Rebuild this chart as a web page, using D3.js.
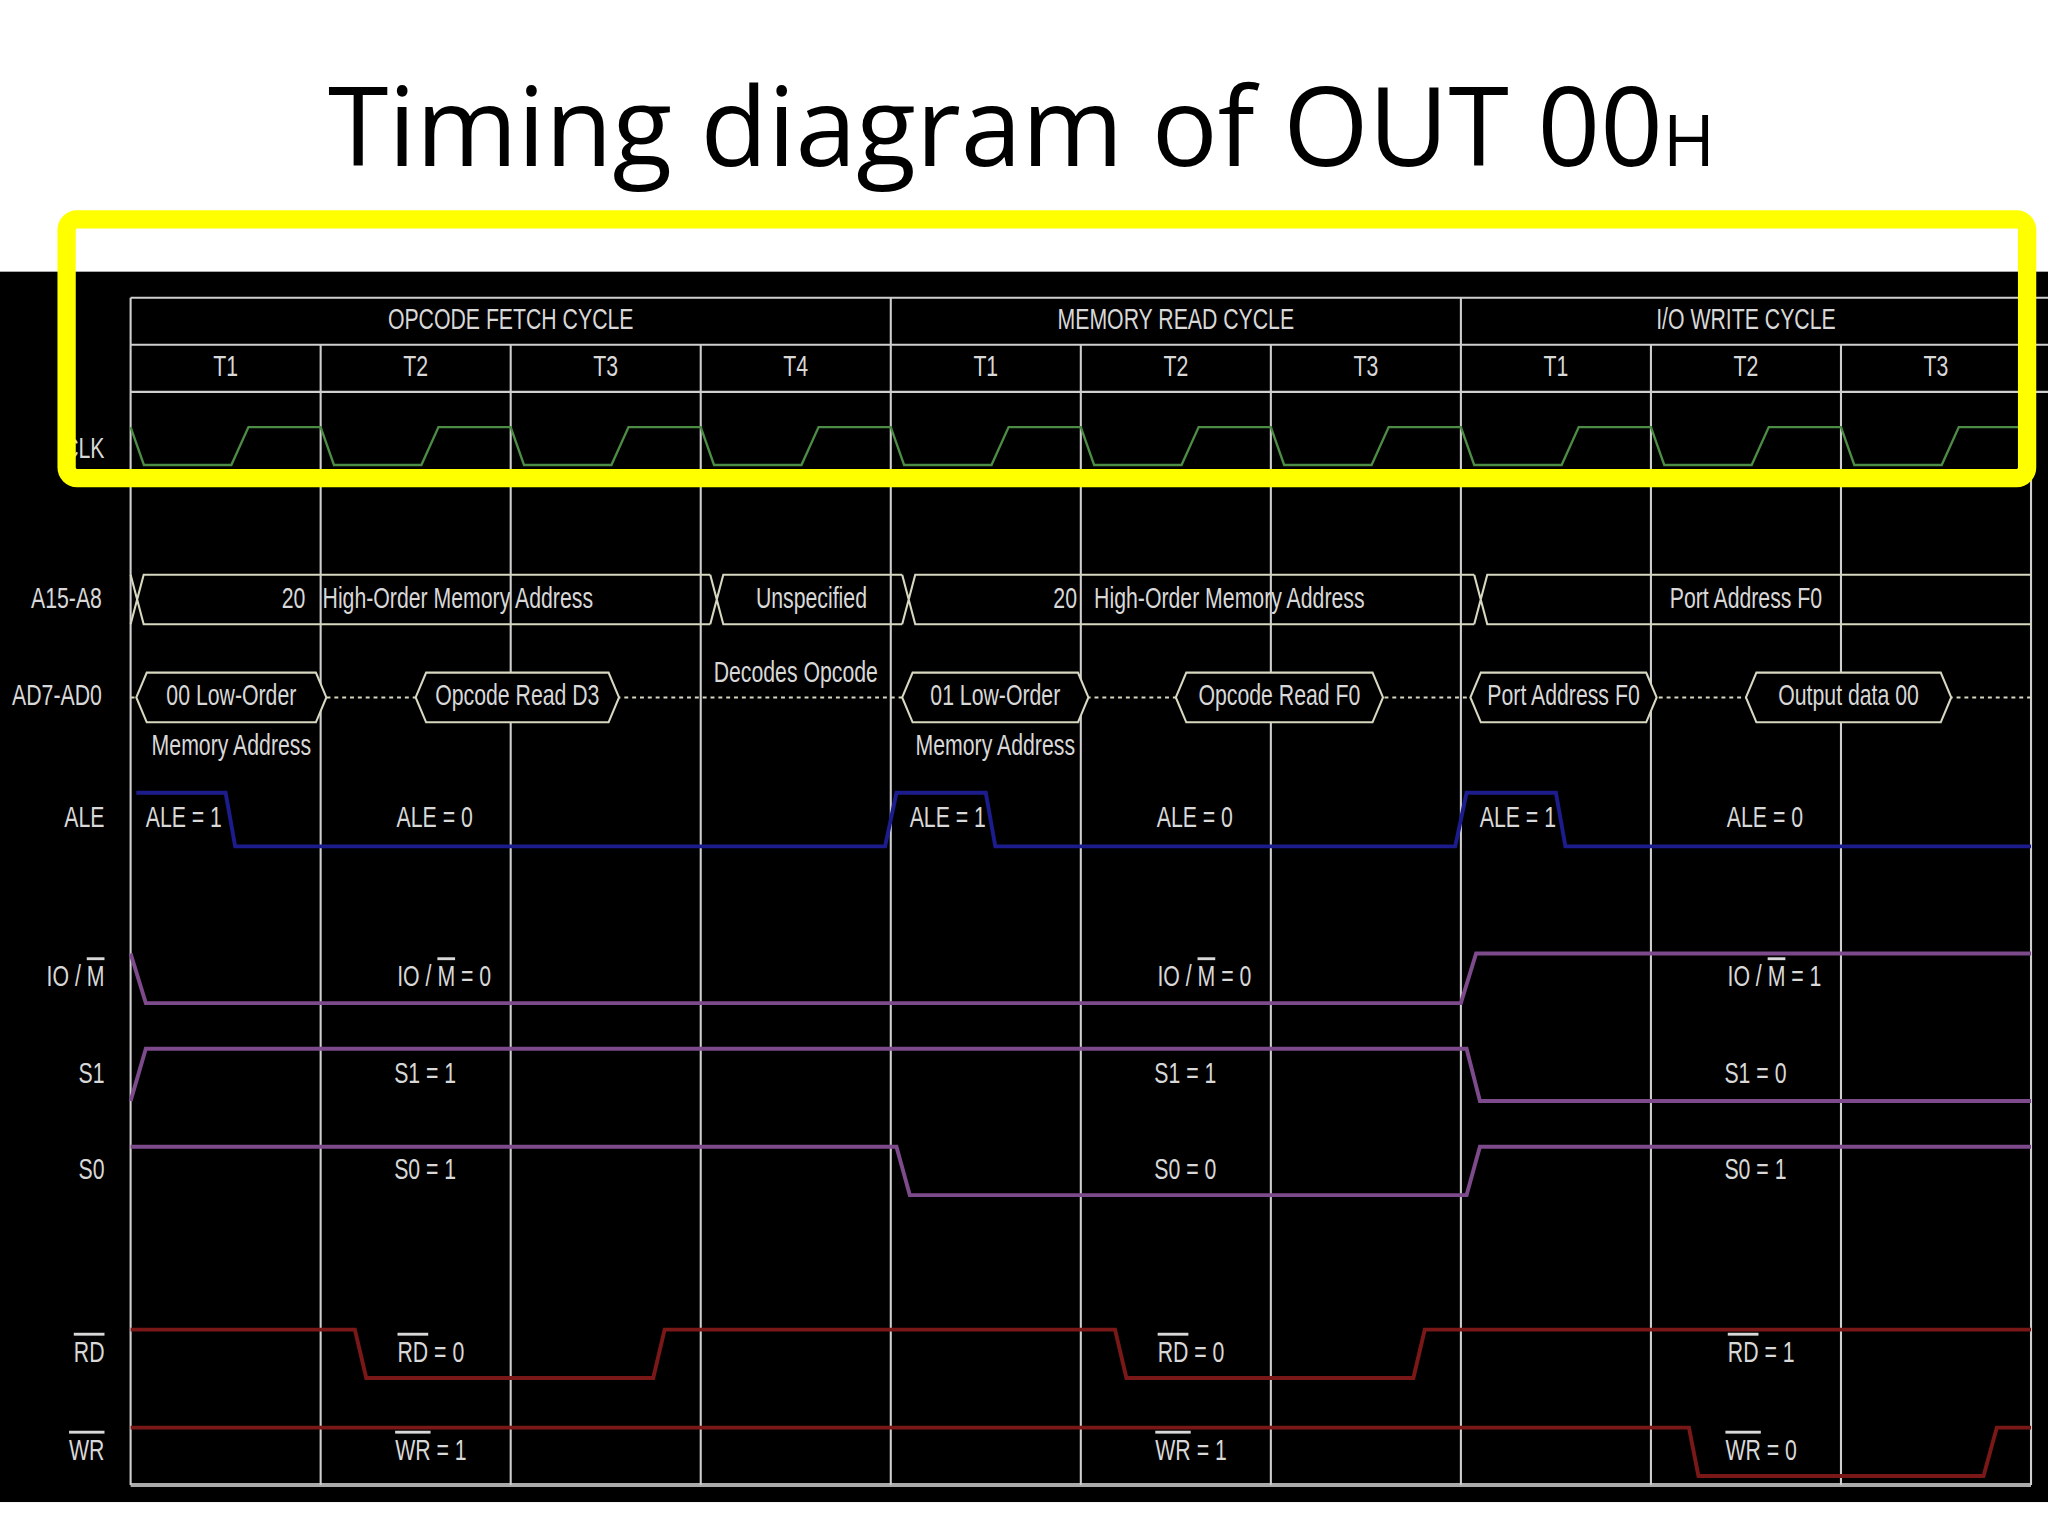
<!DOCTYPE html>
<html><head><meta charset="utf-8">
<script src="https://cdn.jsdelivr.net/npm/d3@7"></script>
<style>body{margin:0;background:#fff}svg{display:block}</style>
</head><body>
<svg id="chart" width="2048" height="1536" viewBox="0 0 1568 1176"></svg>
<script>
// machine cycles and T-states
var cycles = [{name: "OPCODE FETCH CYCLE", start: 0, end: 4},
              {name: "MEMORY READ CYCLE", start: 4, end: 7},
              {name: "I/O WRITE CYCLE", start: 7, end: 10}];
var tLabels = ["T1","T2","T3","T4","T1","T2","T3","T1","T2","T3"];

// clock shape within one T-state (time offset, level)
var clkShape = [[0,1],[0.07,0],[0.53,0],[0.62,1]];

// address bus A15-A8: [start, end, label]
var addrHigh = [[0, 3.05, "20  High-Order Memory Address"],
                [3.05, 4.06, "Unspecified"],
                [4.06, 7.07, "20  High-Order Memory Address"],
                [7.07, 10, "Port Address F0"]];
// AD7-AD0 bus: [start, end, label, second line]
var addrLow = [[0.03, 1.03, "00 Low-Order", "Memory Address"],
               [1.5, 2.57, "Opcode Read D3", ""],
               [4.06, 5.04, "01 Low-Order", "Memory Address"],
               [5.5, 6.59, "Opcode Read F0", ""],
               [7.05, 8.03, "Port Address F0", ""],
               [8.5, 9.58, "Output data 00", ""]];

// control signals: points [time, level]
var ale  = [[0.03,1],[0.5,1],[0.55,0],[3.97,0],[4.03,1],[4.5,1],[4.55,0],[6.97,0],[7.03,1],[7.5,1],[7.55,0],[10,0]];
var iom  = [[0,1],[0.08,0],[7.0,0],[7.08,1],[10,1]];
var s1   = [[0,0],[0.08,1],[7.03,1],[7.1,0],[10,0]];
var s0   = [[0,1],[4.03,1],[4.1,0],[7.03,0],[7.1,1],[10,1]];
var rd   = [[0,1],[1.18,1],[1.24,0],[2.75,0],[2.81,1],[5.18,1],[5.24,0],[6.75,0],[6.81,1],[10,1]];
var wr   = [[0,1],[8.2,1],[8.25,0],[9.75,0],[9.82,1],[10,1]];

var signals = [
  {label: "ALE",  over: "",   pts: ale, hi: 607, lo: 648, color: "#1c1c8c", texts: [[0.28,"ALE = 1"],[1.6,"ALE = 0"],[4.3,"ALE = 1"],[5.6,"ALE = 0"],[7.3,"ALE = 1"],[8.6,"ALE = 0"]]},
  {label: "IO / M", over: "M", pts: iom, hi: 730, lo: 768, color: "#7d4a8c", texts: [[1.65,"IO / M = 0"],[5.65,"IO / M = 0"],[8.65,"IO / M = 1"]]},
  {label: "S1",   over: "",   pts: s1,  hi: 803, lo: 843, color: "#7d4a8c", texts: [[1.55,"S1 = 1"],[5.55,"S1 = 1"],[8.55,"S1 = 0"]]},
  {label: "S0",   over: "",   pts: s0,  hi: 878, lo: 915, color: "#7d4a8c", texts: [[1.55,"S0 = 1"],[5.55,"S0 = 0"],[8.55,"S0 = 1"]]},
  {label: "RD",   over: "RD", pts: rd,  hi: 1018, lo: 1055, color: "#7a1818", texts: [[1.58,"RD = 0"],[5.58,"RD = 0"],[8.58,"RD = 1"]]},
  {label: "WR",   over: "WR", pts: wr,  hi: 1093, lo: 1130, color: "#7a1818", texts: [[1.58,"WR = 1"],[5.58,"WR = 1"],[8.58,"WR = 0"]]}
];

var svg = d3.select("#chart");
var x = d3.scaleLinear().domain([0, 10]).range([100, 1555]);
var font = "'Liberation Sans','Arial',sans-serif";
var txtColor = "#d8d8d8";

// title
var title = svg.append("text").attr("x", 782).attr("y", 127).attr("text-anchor", "middle")
  .style("font-family", "'Open Sans','Noto Sans',sans-serif").style("font-size", "84px").attr("fill", "#000");
title.append("tspan").text("Timing diagram of OUT 00");
title.append("tspan").text("H").style("font-size", "54px");

// black panel
svg.append("rect").attr("x", 0).attr("y", 208).attr("width", 1568).attr("height", 942).attr("fill", "#000");

var grid = svg.append("g").attr("stroke", "#cfcfcf").attr("stroke-width", 1.6);
[228, 264, 300].forEach(function(y) {
  grid.append("line").attr("x1", x(0)).attr("x2", 1568).attr("y1", y).attr("y2", y);
});
grid.append("line").attr("x1", x(0)).attr("x2", x(10)).attr("y1", 1137).attr("y2", 1137).attr("stroke-width", 3).attr("stroke", "#aaa");
d3.range(0, 11).forEach(function(t) {
  var isCycle = cycles.some(function(c) { return c.start === t; });
  grid.append("line").attr("x1", x(t)).attr("x2", x(t)).attr("y1", isCycle ? 228 : 264).attr("y2", 1137);
});

// condensed text: squeeze glyphs horizontally like the narrow font of the scan
var squeeze = 0.74;
function label(xp, y, s, anchor, fill) {
  var t = svg.append("text").attr("x", xp).attr("y", y).attr("text-anchor", anchor || "middle")
    .attr("dominant-baseline", "middle").style("font-family", font).style("font-size", "22px")
    .attr("fill", txtColor);
  if (typeof fill === "function") fill(t); else t.text(s);
  var w = t.node().getComputedTextLength();
  if (w > 0) t.attr("textLength", w * squeeze).attr("lengthAdjust", "spacingAndGlyphs");
  return t;
}

cycles.forEach(function(c) { label((x(c.start) + x(c.end)) / 2, 246, c.name); });
tLabels.forEach(function(t, i) { label((x(i) + x(i + 1)) / 2, 282, t); });

// clock
var clkPts = [];
d3.range(0, 10).forEach(function(t) {
  clkShape.forEach(function(p) { clkPts.push([t + p[0], p[1]]); });
});
clkPts.push([10, 1]);
var clkY = d3.scaleLinear().domain([0, 1]).range([356, 327]);
svg.append("path").attr("fill", "none").attr("stroke", "#4c8c44").attr("stroke-width", 1.8)
  .attr("d", d3.line().x(function(d) { return x(d[0]); }).y(function(d) { return clkY(d[1]); })(clkPts));
label(80, 345, "CLK", "end");

// A15-A8 bus
var busC = "#d8d8c0";
label(78, 460, "A15-A8", "end");
addrHigh.forEach(function(s) {
  var x0 = x(s[0]), x1 = x(s[1]), t = 440, b = 478, k = 5;
  svg.append("path").attr("fill", "none").attr("stroke", busC).attr("stroke-width", 1.6)
    .attr("d", "M" + (x0) + "," + t + "L" + (x0 + k) + "," + (t + 19) + "L" + x0 + "," + b +
      "M" + (x0 + k) + "," + (t + 19) + "L" + (x0 + 2 * k) + "," + t + "L" + x1 + "," + t +
      "M" + (x0 + k) + "," + (t + 19) + "L" + (x0 + 2 * k) + "," + b + "L" + x1 + "," + b);
  var parts = s[2].split("  ");
  if (parts.length === 2) {
    label(x(s[0] + 0.92), 460, parts[0], "end");
    label(x(s[0] + 1.01), 460, parts[1], "start");
  } else if (s[0] > 7) {
    label(x(8.5), 460, s[2]);
  } else {
    label((x0 + x1) / 2 + 4, 460, s[2]);
  }
});

// AD7-AD0 bus
label(78, 534, "AD7-AD0", "end");
var lowY = 534;
svg.append("line").attr("x1", x(0)).attr("x2", x(10)).attr("y1", lowY).attr("y2", lowY)
  .attr("stroke", busC).attr("stroke-width", 1.6).attr("stroke-dasharray", "3,3");
addrLow.forEach(function(s) {
  var x0 = x(s[0]), x1 = x(s[1]), t = 515, b = 553, k = 8;
  svg.append("path").attr("fill", "#000").attr("stroke", busC).attr("stroke-width", 1.6)
    .attr("d", "M" + x0 + "," + lowY + "L" + (x0 + k) + "," + t + "L" + (x1 - k) + "," + t + "L" + x1 + "," + lowY +
      "L" + (x1 - k) + "," + b + "L" + (x0 + k) + "," + b + "Z");
  label((x0 + x1) / 2, lowY, s[2]);
  if (s[3]) label((x0 + x1) / 2, 572, s[3]);
});
label(x(3.5), 516, "Decodes Opcode");

// control signals
signals.forEach(function(sg) {
  var yS = d3.scaleLinear().domain([0, 1]).range([sg.lo, sg.hi]);
  svg.append("path").attr("fill", "none").attr("stroke", sg.color).attr("stroke-width", 3)
    .attr("d", d3.line().x(function(d) { return x(d[0]); }).y(function(d) { return yS(d[1]); })(sg.pts));
  var ym = (sg.hi + sg.lo) / 2;
  function withBar(s) {
    return function(el) {
      if (!sg.over) { el.text(s); return; }
      var i = s.indexOf(sg.over);
      el.append("tspan").text(s.slice(0, i));
      el.append("tspan").text(sg.over).attr("text-decoration", "overline");
      el.append("tspan").text(s.slice(i + sg.over.length));
    };
  }
  label(80, ym, "", "end", withBar(sg.label));
  sg.texts.forEach(function(tx) { label(x(tx[0]), ym, "", "middle", withBar(tx[1])); });
});

// highlight box
svg.append("rect").attr("x", 51).attr("y", 168).attr("width", 1501).attr("height", 198).attr("rx", 8)
  .attr("fill", "none").attr("stroke", "#ffff00").attr("stroke-width", 14);
</script>
</body></html>
